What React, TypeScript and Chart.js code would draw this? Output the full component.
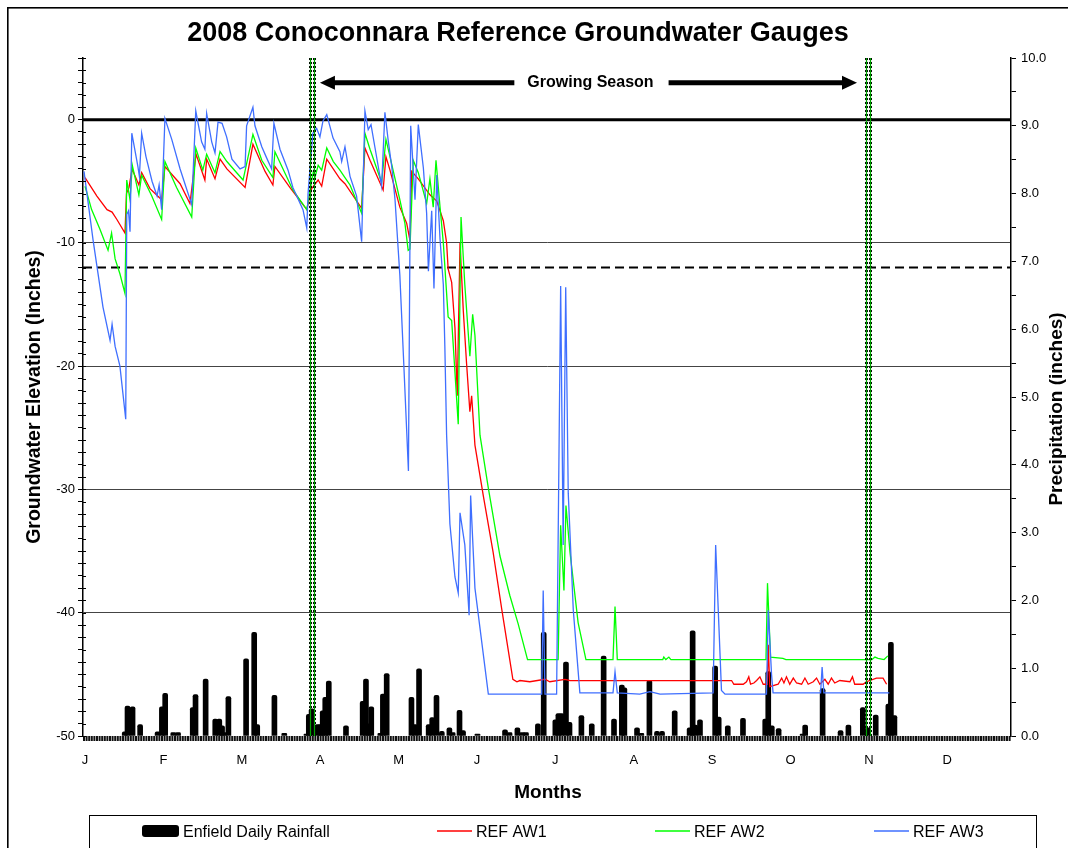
import React, { useEffect, useRef } from "react";
import { Chart, registerables } from "chart.js";

Chart.register(...registerables);

// ---------- DATA ----------
const monthLabels = ["J", "F", "M", "A", "M", "J", "J", "A", "S", "O", "N", "D"];

// Enfield daily rainfall: [day of year, inches]
const rainfall: [number, number][] = [
  [16.5, 0.06], [17.6, 0.44], [19.6, 0.43], [22.6, 0.17], [29.5, 0.06], [31.2, 0.43], [32.5, 0.63],
  [35.7, 0.05], [37.6, 0.05], [43.4, 0.42], [44.5, 0.61], [48.5, 0.84], [52.3, 0.25], [53.9, 0.25],
  [55.0, 0.15], [55.9, 0.05], [57.5, 0.58], [64.5, 1.14], [67.7, 1.53], [68.9, 0.17], [75.7, 0.6],
  [79.6, 0.04], [88.4, 0.03], [89.3, 0.32], [90.4, 0.4], [92.7, 0.17], [93.8, 0.17], [94.8, 0.37],
  [95.8, 0.57], [97.2, 0.81], [104.0, 0.15], [110.6, 0.51], [111.9, 0.84], [112.9, 0.18], [114.0, 0.43],
  [117.6, 0.04], [118.6, 0.62], [120.1, 0.92], [129.9, 0.57], [131.3, 0.17], [132.9, 0.99], [136.7, 0.17],
  [138.1, 0.27], [139.8, 0.6], [141.9, 0.07], [144.9, 0.12], [146.2, 0.05], [148.9, 0.38], [150.3, 0.08],
  [156.0, 0.03], [166.9, 0.09], [168.7, 0.05], [171.8, 0.12], [173.7, 0.05], [175.2, 0.05], [179.9, 0.18],
  [182.2, 1.53], [186.8, 0.24], [188.0, 0.33], [189.2, 0.33], [191.0, 1.09], [192.4, 0.2], [197.1, 0.3],
  [201.2, 0.18], [205.9, 1.18], [210.0, 0.25], [213.1, 0.75], [214.1, 0.71], [219.1, 0.12], [220.8, 0.04],
  [224.0, 0.82], [227.0, 0.07], [229.0, 0.07], [234.0, 0.37], [239.9, 0.12], [241.1, 1.55], [242.1, 0.16],
  [244.0, 0.24], [250.0, 1.03], [251.4, 0.28], [255.0, 0.15], [261.0, 0.26], [269.8, 0.25], [271.0, 0.95],
  [272.4, 0.15], [275.1, 0.11], [284.6, 0.03], [285.6, 0.16], [292.5, 0.7], [299.6, 0.08], [302.7, 0.16],
  [308.4, 0.42], [310.4, 0.12], [313.5, 0.31], [318.5, 0.47], [319.5, 1.38], [320.9, 0.3],
];

// REF AW1: [day of year, groundwater elevation (in)]
const refAW1: [number, number][] = [
  [0.8, -4.7], [5.5, -6.2], [9.5, -7.3], [11.5, -7.5], [13.4, -8.1], [16.6, -9.2], [17.2, -6.0], [18.2, -5.5],
  [19.4, -4.0], [22.1, -5.3], [23.2, -4.3], [26.5, -5.6], [31.1, -6.5], [32.4, -3.8], [38.4, -5.2], [42.3, -6.8],
  [44.7, -2.8], [48.2, -4.9], [48.9, -3.2], [52.2, -4.8], [54.2, -3.2], [56.9, -4.0], [64.1, -5.5], [67.2, -2.0],
  [72.0, -4.2], [75.1, -5.3], [75.9, -3.8], [81.8, -5.5], [88.5, -7.3], [90.4, -5.6], [93.0, -4.9], [94.4, -5.4],
  [96.4, -3.2], [101.6, -4.8], [103.6, -5.2], [110.2, -7.2], [111.5, -2.3], [113.5, -3.3], [118.7, -5.7],
  [119.8, -3.0], [121.4, -4.1], [125.3, -7.1], [128.0, -8.4], [129.3, -9.8], [130.0, -4.2], [132.6, -4.8],
  [137.2, -6.1], [139.9, -6.6], [142.5, -8.2], [143.8, -10.0], [144.4, -12.1], [145.8, -13.2], [147.1, -16.9],
  [148.0, -22.4], [149.1, -10.0], [150.4, -15.5], [151.7, -19.8], [153.0, -23.7], [153.7, -22.4], [155.0, -26.4],
  [158.3, -30.5], [162.2, -35.1], [165.6, -39.7], [170.0, -45.4], [171.6, -45.6], [172.8, -45.5], [176.7, -45.6],
  [182.7, -45.4], [184.6, -45.6], [190.6, -45.4], [192.6, -45.5], [256.5, -45.5], [257.4, -45.8], [261.1, -45.8],
  [262.4, -45.6], [263.3, -45.2], [264.0, -45.8], [265.3, -45.7], [266.4, -45.5], [267.7, -45.2], [269.0, -45.8],
  [270.6, -45.8], [271.0, -42.6], [271.6, -46.0], [274.9, -45.8], [276.3, -45.3], [277.2, -45.7], [278.2, -45.2],
  [279.5, -45.8], [280.9, -45.3], [282.2, -45.7], [284.2, -45.8], [285.5, -45.3], [286.8, -45.8], [288.8, -45.6],
  [290.1, -45.3], [291.4, -45.8], [293.4, -45.4], [294.7, -45.8], [296.0, -45.3], [297.3, -45.7], [299.3, -45.5],
  [303.3, -45.6], [304.3, -45.2], [305.2, -45.8], [308.5, -45.8], [309.8, -45.6], [313.8, -45.3], [316.4, -45.3],
  [317.8, -45.8],
];

// REF AW2
const refAW2: [number, number][] = [
  [0.8, -5.4], [3.4, -7.3], [6.7, -8.9], [9.9, -10.6], [11.3, -9.2], [12.7, -11.3], [14.6, -12.5], [16.6, -14.1],
  [17.3, -4.9], [18.6, -6.5], [19.5, -3.7], [22.1, -6.1], [23.2, -4.5], [27.2, -6.2], [31.1, -8.1], [32.4, -3.4],
  [37.0, -5.5], [43.0, -7.9], [44.6, -2.3], [47.4, -4.1], [48.9, -2.8], [52.2, -4.3], [54.2, -2.6], [56.9, -3.4],
  [63.3, -4.9], [67.2, -1.2], [70.7, -3.3], [75.1, -4.7], [75.9, -2.6], [83.0, -5.7], [88.5, -7.3], [91.1, -4.2],
  [91.7, -4.7], [93.0, -3.7], [94.4, -4.1], [96.4, -2.3], [99.0, -3.4], [101.6, -4.1], [103.6, -4.7], [105.6, -5.3],
  [110.2, -7.6], [111.5, -1.1], [113.5, -2.4], [118.1, -5.1], [119.8, -1.6], [121.4, -3.0], [125.3, -6.5],
  [127.3, -8.4], [128.6, -10.6], [129.3, -10.5], [130.6, -3.3], [132.6, -4.3], [135.9, -6.8], [137.2, -4.8],
  [138.5, -7.1], [139.6, -3.3], [141.2, -7.1], [142.5, -10.0], [144.4, -16.0], [145.8, -16.3], [148.4, -24.7],
  [149.5, -7.9], [151.0, -13.4], [153.0, -19.2], [154.1, -15.8], [155.0, -17.5], [157.0, -25.6], [160.3, -29.9],
  [164.9, -35.4], [168.8, -38.6], [172.1, -40.9], [175.8, -43.8], [187.9, -43.8], [188.9, -32.9], [190.2, -38.2],
  [191.0, -31.3], [192.6, -35.1], [195.8, -40.8], [198.9, -43.8], [209.6, -43.8], [210.4, -39.5], [211.3, -43.8],
  [229.3, -43.8], [229.7, -43.6], [230.5, -43.8], [231.7, -43.6], [232.5, -43.8], [270.1, -43.8], [270.7, -37.6],
  [271.9, -43.6], [276.8, -43.7], [278.0, -43.8], [312.0, -43.8], [313.2, -43.6], [314.4, -43.7], [316.8, -43.8],
  [318.3, -43.5],
];

// REF AW3
const refAW3: [number, number][] = [
  [0.4, -4.2], [4.0, -9.8], [7.9, -15.2], [10.7, -17.9], [11.5, -16.6], [12.7, -18.4], [14.6, -20.0], [16.9, -24.3],
  [17.3, -7.7], [18.0, -7.4], [18.6, -9.1], [19.3, -1.1], [21.7, -3.8], [22.3, -4.6], [23.2, -1.1], [24.9, -3.0],
  [27.3, -5.0], [29.3, -6.2], [30.1, -5.3], [31.1, -7.3], [32.4, 0.1], [35.1, -1.6], [38.4, -4.0], [43.0, -6.9],
  [44.6, 0.7], [46.9, -1.8], [48.2, -2.4], [48.9, 0.5], [50.9, -1.8], [52.2, -2.7], [53.4, -0.2], [55.0, -0.3],
  [56.8, -1.4], [58.9, -3.2], [62.1, -4.0], [64.1, -3.8], [64.7, -0.5], [67.2, 1.0], [68.0, -0.5], [70.7, -2.2],
  [72.4, -3.0], [74.6, -4.0], [75.5, -0.3], [77.9, -2.4], [81.1, -4.1], [83.0, -5.5], [87.0, -7.3], [88.5, -8.8],
  [89.0, -6.0], [90.9, -1.1], [92.4, -0.7], [93.7, -1.4], [94.9, -0.1], [96.4, 0.4], [98.9, -1.5], [101.6, -2.6],
  [102.3, -3.4], [103.6, -2.2], [105.6, -4.6], [108.2, -6.2], [110.2, -9.9], [111.5, 0.7], [112.8, -0.8],
  [113.9, -0.4], [115.5, -2.3], [118.1, -5.4], [119.4, 0.6], [120.7, -1.7], [122.1, -3.8], [123.4, -6.5],
  [125.3, -12.6], [126.9, -20.0], [128.7, -28.5], [129.6, -0.5], [131.3, -6.5], [132.6, -0.4], [134.6, -3.9],
  [135.9, -7.6], [136.6, -12.3], [137.9, -7.4], [138.8, -13.7], [139.9, -4.5], [141.2, -9.7], [142.5, -13.4],
  [143.1, -18.4], [143.8, -25.6], [145.1, -32.8], [147.1, -37.1], [148.4, -38.4], [149.1, -31.9], [151.0, -34.5],
  [152.7, -40.2], [153.3, -30.5], [155.0, -38.0], [160.3, -46.6], [181.4, -46.6], [182.0, -38.2], [182.7, -46.6],
  [187.3, -46.6], [188.9, -13.5], [189.9, -34.5], [190.9, -13.6], [191.9, -30.3], [193.9, -39.8], [196.5, -46.5],
  [209.6, -46.5], [210.4, -44.8], [211.3, -46.5], [220.2, -46.6], [224.2, -46.4], [228.2, -46.6], [249.2, -46.5],
  [250.2, -34.5], [252.5, -46.3], [253.9, -46.6], [270.3, -46.6], [271.0, -39.8], [272.3, -45.0], [272.9, -46.5],
  [291.7, -46.5], [292.3, -44.4], [293.0, -46.5], [318.9, -46.5],
];

const zeroLevel = 0;
const thresholdLevel = -12;
const seasonLineDays = [89.8, 91.3, 309.6, 311.1];
const arrowDays = [93.7, 306.1];
const arrowLevel = 3;

const FONT = '"Liberation Sans", Arial, Helvetica, sans-serif';
const RED = "#FF0000";
const GREEN = "#00FF00";
const BLUE = "#3F6FFF";

const toPoints = (arr: [number, number][]) => arr.map(([x, y]) => ({ x, y }));

const overlay = {
  id: "overlay",
  beforeDatasetsDraw(chart: any) {
    const { ctx, chartArea: a, scales } = chart;
    const ys = scales.y;
    ctx.save();
    ctx.strokeStyle = "#000";
    // zero line
    ctx.lineWidth = 3;
    let py = ys.getPixelForValue(zeroLevel);
    ctx.beginPath();
    ctx.moveTo(a.left, py);
    ctx.lineTo(a.right, py);
    ctx.stroke();
    // threshold dashed line
    ctx.lineWidth = 2;
    ctx.setLineDash([9, 5]);
    py = ys.getPixelForValue(thresholdLevel);
    ctx.beginPath();
    ctx.moveTo(a.left, py);
    ctx.lineTo(a.right, py);
    ctx.stroke();
    ctx.restore();
  },
  afterDatasetsDraw(chart: any) {
    const { ctx, chartArea: a, scales } = chart;
    const xs = scales.x;
    const ys = scales.y;
    ctx.save();
    // x axis hatched band
    ctx.strokeStyle = "#111";
    ctx.lineWidth = 5;
    ctx.setLineDash([2, 0.6]);
    ctx.beginPath();
    ctx.moveTo(a.left, a.bottom + 2.5);
    ctx.lineTo(a.right, a.bottom + 2.5);
    ctx.stroke();
    ctx.setLineDash([]);

    // inner half of the left axis tick marks (ticks cross the axis)
    ctx.strokeStyle = "#000";
    ctx.lineWidth = 1;
    ys.ticks.forEach((t: any) => {
      const py = Math.round(ys.getPixelForValue(t.value)) + 0.5;
      ctx.beginPath();
      ctx.moveTo(a.left, py);
      ctx.lineTo(a.left + 3, py);
      ctx.stroke();
    });

    // growing season vertical lines
    seasonLineDays.forEach((d) => {
      const px = Math.round(xs.getPixelForValue(d)) + 0.5;
      ctx.strokeStyle = "#000";
      ctx.lineWidth = 3;
      ctx.setLineDash([2, 2]);
      ctx.beginPath();
      ctx.moveTo(px, a.top);
      ctx.lineTo(px, a.bottom);
      ctx.stroke();
      ctx.setLineDash([]);
      ctx.strokeStyle = "#00A000";
      ctx.lineWidth = 1.2;
      ctx.beginPath();
      ctx.moveTo(px, a.top);
      ctx.lineTo(px, a.bottom);
      ctx.stroke();
    });

    // growing season arrow
    const ay = ys.getPixelForValue(arrowLevel);
    const xl = xs.getPixelForValue(arrowDays[0]);
    const xr = xs.getPixelForValue(arrowDays[1]);
    const label = "Growing Season";
    ctx.font = `bold 16px ${FONT}`;
    const tw = ctx.measureText(label).width;
    const xc = (xl + xr) / 2 + 2;
    ctx.fillStyle = "#000";
    ctx.textAlign = "center";
    ctx.textBaseline = "middle";
    ctx.fillText(label, xc, ay);
    ctx.strokeStyle = "#000";
    ctx.lineWidth = 5;
    ctx.beginPath();
    ctx.moveTo(xl + 10, ay);
    ctx.lineTo(xc - tw / 2 - 13, ay);
    ctx.moveTo(xc + tw / 2 + 15, ay);
    ctx.lineTo(xr - 10, ay);
    ctx.stroke();
    ctx.beginPath();
    ctx.moveTo(xl, ay);
    ctx.lineTo(xl + 15, ay - 7);
    ctx.lineTo(xl + 15, ay + 7);
    ctx.closePath();
    ctx.moveTo(xr, ay);
    ctx.lineTo(xr - 15, ay - 7);
    ctx.lineTo(xr - 15, ay + 7);
    ctx.closePath();
    ctx.fill();
    ctx.restore();
  },
  afterDraw(chart: any) {
    const { ctx } = chart;
    ctx.save();
    ctx.fillStyle = "#000";
    // outer frame
    ctx.fillRect(7, 7, 1061, 1.6);
    ctx.fillRect(7, 7, 1.6, 841);

    // title
    ctx.font = `bold 27px ${FONT}`;
    ctx.textAlign = "center";
    ctx.textBaseline = "alphabetic";
    ctx.fillText("2008 Conoconnara Reference Groundwater Gauges", 518, 41);

    // x axis title
    ctx.font = `bold 19px ${FONT}`;
    ctx.fillText("Months", 548, 798);

    // left axis title
    ctx.save();
    ctx.font = `bold 19.5px ${FONT}`;
    ctx.translate(40, 397);
    ctx.rotate(-Math.PI / 2);
    ctx.fillText("Groundwater Elevation (Inches)", 0, 0);
    ctx.restore();

    // right axis title
    ctx.save();
    ctx.font = `bold 19px ${FONT}`;
    ctx.translate(1062, 409);
    ctx.rotate(-Math.PI / 2);
    ctx.fillText("Precipitation (inches)", 0, 0);
    ctx.restore();

    // legend box
    ctx.strokeStyle = "#000";
    ctx.lineWidth = 1;
    ctx.strokeRect(89.5, 815.5, 947, 60);
    ctx.font = `16px ${FONT}`;
    ctx.textAlign = "left";
    ctx.textBaseline = "alphabetic";
    // rainfall swatch
    ctx.beginPath();
    (ctx as any).roundRect ? (ctx as any).roundRect(142, 825, 37, 12, 3) : ctx.rect(142, 825, 37, 12);
    ctx.fill();
    ctx.fillText("Enfield Daily Rainfall", 183, 837);
    const items: [string, string, number][] = [
      ["REF AW1", RED, 437],
      ["REF AW2", GREEN, 655],
      ["REF AW3", BLUE, 874],
    ];
    items.forEach(([name, color, x]) => {
      ctx.strokeStyle = color;
      ctx.lineWidth = 1.5;
      ctx.beginPath();
      ctx.moveTo(x, 831);
      ctx.lineTo(x + 35, 831);
      ctx.stroke();
      ctx.fillStyle = "#000";
      ctx.fillText(name, x + 39, 837);
    });
    ctx.restore();
  },
};

export default function App() {
  const ref = useRef<HTMLCanvasElement | null>(null);

  useEffect(() => {
    const canvas = ref.current;
    if (!canvas) return;
    const tickFont = { family: FONT, size: 13 };
    const lineDs = (label: string, data: [number, number][], color: string, order: number) => ({
      type: "line" as const,
      label,
      data: toPoints(data),
      yAxisID: "y",
      xAxisID: "x",
      borderColor: color,
      backgroundColor: color,
      borderWidth: 1.3,
      pointRadius: 0,
      tension: 0,
      fill: false,
      order,
    });
    const chart = new Chart(canvas, {
      type: "bar",
      data: {
        datasets: [
          lineDs("REF AW1", refAW1, RED, 3),
          lineDs("REF AW2", refAW2, GREEN, 2),
          lineDs("REF AW3", refAW3, BLUE, 1),
          {
            type: "bar" as const,
            label: "Enfield Daily Rainfall",
            data: toPoints(rainfall),
            yAxisID: "y2",
            xAxisID: "x",
            backgroundColor: "#000",
            borderWidth: 0,
            barThickness: 5,
            borderRadius: 2,
            order: 5,
          } as any,
        ],
      },
      options: {
        responsive: false,
        animation: false,
        devicePixelRatio: 1,
        layout: { padding: { top: 58, left: 0, right: 0, bottom: 0 } },
        plugins: {
          legend: { display: false },
          title: { display: false },
          tooltip: { enabled: false },
        },
        scales: {
          x: {
            type: "linear",
            position: "bottom",
            min: 0,
            max: 367,
            offset: false,
            afterFit: (s: any) => {
              s.height = 112;
            },
            afterBuildTicks: (s: any) => {
              s.ticks = monthLabels.map((_, i) => ({ value: 0.8 + 31 * i }));
            },
            ticks: {
              autoSkip: false,
              maxRotation: 0,
              padding: 9,
              color: "#000",
              font: tickFont,
              callback: (_v: any, i: number) => monthLabels[i],
            },
            grid: { display: false, offset: false },
            border: { display: false },
          },
          y: {
            type: "linear",
            position: "left",
            min: -50,
            max: 5,
            afterFit: (s: any) => {
              s.width = 83;
            },
            ticks: {
              stepSize: 1,
              autoSkip: false,
              padding: 3,
              color: "#000",
              font: tickFont,
              callback: (v: any) => (Number(v) % 10 === 0 ? String(v) : ""),
            },
            grid: {
              color: (c: any) => {
                const v = c.tick ? c.tick.value : NaN;
                return v % 10 === 0 && v < 0 && v > -50 ? "#444" : "rgba(0,0,0,0)";
              },
              tickColor: "#000",
              tickLength: 5,
              lineWidth: 1,
            },
            border: { display: true, color: "#000", width: 1.5 },
          },
          y2: {
            type: "linear",
            position: "right",
            min: 0,
            max: 10,
            afterFit: (s: any) => {
              s.width = 57;
            },
            ticks: {
              stepSize: 0.5,
              autoSkip: false,
              padding: 5,
              color: "#000",
              font: tickFont,
              callback: (v: any) => (Number.isInteger(Number(v)) ? Number(v).toFixed(1) : ""),
            },
            grid: { drawOnChartArea: false, tickColor: "#000", tickLength: 5 },
            border: { display: true, color: "#000", width: 1.5 },
          },
        },
      } as any,
      plugins: [overlay],
    });
    return () => chart.destroy();
  }, []);

  return (
    <div
      style={{
        position: "absolute",
        left: 0,
        top: 0,
        width: 1068,
        height: 848,
        overflow: "hidden",
        background: "#fff",
      }}
    >
      <canvas
        ref={ref}
        width={1068}
        height={848}
        style={{ position: "absolute", left: 0, top: 0, width: 1068, height: 848 }}
      />
    </div>
  );
}
